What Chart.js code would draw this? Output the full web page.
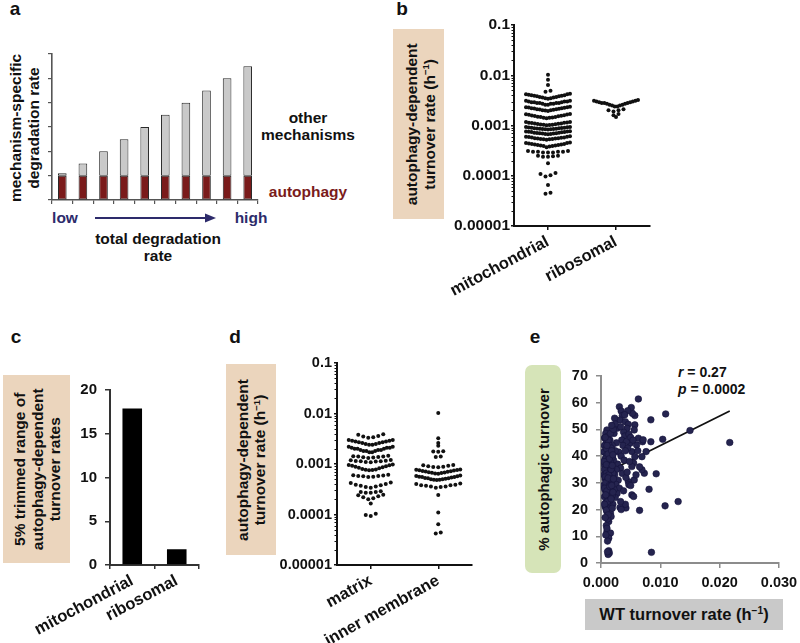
<!DOCTYPE html>
<html><head><meta charset="utf-8">
<script src="https://cdn.jsdelivr.net/npm/chart.js@4.4.1/dist/chart.umd.min.js"></script>
<style>
html,body{margin:0;padding:0;background:#fff;width:800px;height:643px;overflow:hidden;font-family:'Liberation Sans',Arial,sans-serif;}
#fig{position:relative;width:800px;height:643px;}
canvas{position:absolute;}
.t{position:absolute;transform:translate(-50%,-50%);font-weight:bold;font-size:15.5px;white-space:nowrap;color:#111;line-height:1.15;text-align:center;}
.lt{position:absolute;transform:translate(-50%,-50%);font-weight:bold;font-size:19px;color:#111;line-height:1;}
.box{position:absolute;display:flex;align-items:center;justify-content:center;}
.rot{transform:rotate(-90deg);white-space:nowrap;text-align:center;font-weight:bold;font-size:15.5px;color:#111;flex-shrink:0;}
sup{font-size:0.62em;vertical-align:0.55em;line-height:0;}
</style></head>
<body><div id="fig">
<!-- label boxes -->
<div class="box" style="left:0;top:50px;width:50px;height:156px;"><div class="rot" style="line-height:18px;font-size:15.5px">mechanism-specific<br>degradation rate</div></div>
<div class="box" style="left:393px;top:29px;width:51px;height:190px;background:#ebd5bd;"><div class="rot" style="line-height:18.3px;margin-left:4px">autophagy-dependent<br>turnover rate (h<sup>−1</sup>)</div></div>
<div class="box" style="left:3px;top:375px;width:67px;height:188px;background:#ebd5bd;"><div class="rot" style="line-height:17.5px;">5% trimmed range of<br>autophagy-dependent<br>turnover rates</div></div>
<div class="box" style="left:226px;top:364px;width:50px;height:191px;background:#ebd5bd;"><div class="rot" style="line-height:17px;">autophagy-dependent<br>turnover rate (h<sup>−1</sup>)</div></div>
<div class="box" style="left:525px;top:365px;width:36px;height:208px;background:#d6e4b8;border-radius:7px;"><div class="rot" style="font-size:15px;">% autophagic turnover</div></div>
<div class="box" style="left:585px;top:599px;width:198px;height:31px;background:#c9c9c9;"><div style="font-weight:bold;font-size:16.5px;color:#111;white-space:nowrap;">WT turnover rate (h<sup>−1</sup>)</div></div>

<!-- panel letters -->
<div class="lt" style="left:15px;top:8px;">a</div>
<div class="lt" style="left:402px;top:8px;">b</div>
<div class="lt" style="left:16px;top:336px;">c</div>
<div class="lt" style="left:235px;top:336px;">d</div>
<div class="lt" style="left:535px;top:336px;">e</div>

<!-- panel a annotations -->
<div class="t" style="left:308px;top:118px;">other</div>
<div class="t" style="left:308px;top:135px;">mechanisms</div>
<div class="t" style="left:308px;top:192px;color:#7a1b1b;">autophagy</div>
<div class="t" style="left:65px;top:218px;color:#2d2b6b;">low</div>
<div class="t" style="left:251px;top:218px;color:#2d2b6b;">high</div>
<svg style="position:absolute;left:0;top:0;" width="300" height="240"><line x1="95" y1="218" x2="208" y2="218" stroke="#2d2b6b" stroke-width="2"/><polygon points="205,213.5 216,218 205,222.5" fill="#2d2b6b"/></svg>
<div class="t" style="left:158px;top:239px;">total degradation</div>
<div class="t" style="left:158px;top:256px;">rate</div>

<!-- panel e stats -->
<div style="position:absolute;left:678px;top:364px;font-weight:bold;font-size:14px;color:#111;white-space:nowrap;"><i>r</i> = <span id="rVal"></span></div>
<div style="position:absolute;left:678px;top:381px;font-weight:bold;font-size:14px;color:#111;white-space:nowrap;"><i>p</i> = <span id="pVal"></span></div>

<canvas id="ca" width="272" height="212" style="left:0;top:0;width:272px;height:212px;"></canvas>
<canvas id="cb" width="222" height="292" style="left:450px;top:8px;width:222px;height:292px;"></canvas>
<canvas id="cc" width="196" height="271" style="left:20px;top:372px;width:196px;height:271px;"></canvas>
<canvas id="cd" width="222" height="298" style="left:272px;top:345px;width:222px;height:298px;"></canvas>
<canvas id="ce" width="244" height="238" style="left:556px;top:358px;width:244px;height:238px;"></canvas>
</div>
<script>
// ================= DATA =================
// Panel a (schematic)
const aCategories = ['1','2','3','4','5','6','7','8','9','10'];
const aAutophagy = [1,1,1,1,1,1,1,1,1,1];
const aOther = [0.1,0.5,1.0,1.5,2.0,2.5,3.0,3.5,4.0,4.5];

// Log axis ticks (panels b, d)
const logTickValues = [0.00001,0.0001,0.001,0.01,0.1];
const logTickLabels = ['0.00001','0.0001','0.001','0.01','0.1'];

// Panel b
const bCategories = ['mitochondrial','ribosomal'];
const bMito = [
 0.0102, 0.0081, 0.0064, 0.0049, 0.0047,
 0.0043,0.0042,0.0042,0.0041,0.0040,0.0040,0.0039,0.0039,0.0038,0.0038,0.0037,0.0037,0.0036,0.0036,0.0035,0.0035,0.0034,
 0.0031,0.0031,0.0030,0.0030,0.0030,0.0029,0.0029,0.0029,0.0028,0.0028,0.0028,0.0028,0.0027,0.0027,0.0027,0.0026,0.0026,
 0.00235,0.0023,0.0023,0.00228,0.00225,0.0022,0.0022,0.00218,0.00215,0.0021,0.0021,0.00208,0.00205,0.0020,0.0020,0.00198,0.00195,
 0.0017,0.00168,0.00165,0.00163,0.0016,0.00158,0.00156,0.00155,0.00153,0.0015,0.00148,0.00147,0.00145,0.00143,0.00142,0.0014,
 0.00118,0.00117,0.00115,0.00114,0.00113,0.00112,0.0011,0.00109,0.00108,0.00107,0.00106,0.00105,0.00104,0.00103,0.00102,0.00101,
 0.00093,0.00093,0.00092,0.00091,0.0009,0.0009,0.00089,0.00088,0.00088,0.00087,0.00086,0.00086,0.00085,0.00085,0.00084,0.00084,0.00083,
 0.00077,0.00076,0.00076,0.00075,0.00074,0.00074,0.00073,0.00072,0.00072,0.00071,0.0007,0.0007,0.00069,0.00069,0.00068,0.00068,0.00067,
 0.00061,0.0006,0.0006,0.00059,0.00058,0.00058,0.00057,0.00056,0.00056,0.00055,0.00055,0.00054,0.00054,0.00053,0.00053,0.00052,
 0.00046,0.00045,0.00045,0.00044,0.00043,0.00043,0.00042,0.00042,0.00041,0.00041,0.0004,0.0004,0.00039,0.00039,0.00038,0.00037,
 0.00031,0.00031,0.0003,0.0003,0.0003,0.0003,0.00029,0.00029,0.00029,
 0.00025,0.00025,0.000245,0.00024,0.00024,
 0.000177,
 0.000113,0.000108,0.000102,0.000097,
 0.0000655,
 0.000046,0.000044
];
const bRibo = [
 0.0032,0.0031,0.0031,0.0030,0.0030,0.0029,0.0029,0.0028,0.0028,0.0028,0.0027,0.0027,0.0026,0.0026,0.0025,0.0025,0.0024,0.0024,
 0.0021,0.0020,0.0020,0.0019,
 0.0017,0.0016,
 0.00148
];

// Panel c
const cCategories = ['mitochondrial','ribosomal'];
const cValues = [17.9, 1.8];
const cTicks = [0,5,10,15,20];

// Panel d
const dCategories = ['matrix','inner membrane'];
const dMatrix = [
 0.0039,0.0038,0.0036,0.0035,0.0034,0.0033,
 0.0030,0.0030,0.0029,0.0029,0.0028,0.0028,0.0027,0.0027,0.0026,0.0026,0.0025,0.0025,0.0024,0.0024,
 0.0022,0.0022,0.0021,0.0021,0.0021,0.0020,0.0020,0.0020,0.0019,0.0019,0.0019,0.0018,0.0018,0.0018,0.0017,0.0017,
 0.00145,0.00143,0.0014,0.0014,0.00138,0.00136,0.00134,0.00132,
 0.0012,0.00118,0.00116,0.00115,0.00114,0.00113,0.00112,0.0011,0.00108,
 0.00098,0.00096,0.00094,0.00092,0.0009,0.00088,0.00086,0.00084,0.00082,0.0008,0.00078,0.00077,0.00076,0.00075,
 0.00061,0.0006,0.00059,0.00058,0.00058,0.00057,0.00056,0.00055,
 0.00043,0.00042,0.0004,0.00039,0.00038,0.00037,0.00036,0.00035,0.00034,
 0.00029,0.00028,0.00028,0.00027,0.00027,
 0.000245,0.00024,0.00023,0.00022,0.00021,0.0002,
 0.000165,
 0.000104,0.000098,0.000093
];
const dInner = [
 0.0102,
 0.00325,
 0.0026,
 0.0023,
 0.00178,0.00176,0.00174,
 0.0014,0.00138,
 0.00096,0.00094,0.00092,0.0009,0.00088,0.00087,0.00086,
 0.00078,0.00077,0.00076,0.00075,0.00074,0.00073,0.00072,0.00071,0.0007,0.00069,0.00068,0.00067,0.00066,0.00065,0.00064,
 0.00059,0.00058,0.00057,0.00056,0.00055,0.00055,0.00054,0.00053,0.00052,0.00052,0.00051,0.0005,0.0005,0.00049,0.00049,0.00048,
 0.00041,0.0004,0.00039,0.00038,0.00038,0.00037,0.00036,0.00036,0.00035,0.00034,
 0.000244,
 0.00011,
 0.000064,
 0.000044,0.000042
];

// Panel e
const eX = [
 0.0217,0.0150,0.0109,0.0104,0.0108,0.0130,0.0085,0.0084,0.0084,0.0093,0.0081,0.0065,0.0070,0.0076,0.0063,0.0069,0.0073,0.0069,0.0060,0.0063,
 0.0071,0.0057,0.0053,0.0051,0.0057,0.0056,0.0052,0.0057,0.0055,0.0052,0.0056,0.0046,0.0047,0.0052,0.0055,0.0042,0.0041,0.0032,0.0034,
 0.0031,0.0034,0.0036,0.0032,0.0023,0.0041,0.0046,0.0044,0.0049,0.0038,0.0040,0.0035,0.0043,0.0037,0.0045,0.0041,0.0030,0.0034,0.0039,0.0028,
 0.0033,0.0036,0.0042,0.0029,0.0025,0.0031,0.0038,0.0027,0.0024,0.0033,0.0047,0.0050,0.0026,0.0022,0.0028,0.0045,0.0040,0.0033,0.0054,0.0062,
 0.0065,0.0059,0.0050,0.0044,0.0048,0.0026,0.0023,0.0021,0.0024,0.0022,0.0020,0.0019,
 0.0010,0.0008,0.0012,0.0006,0.0015,0.0009,0.0013,0.0007,0.0017,0.0011,0.0005,0.0014,0.0009,0.0019,0.0007,0.0012,0.0016,0.0010,0.0006,0.0014,
 0.0018,0.0008,0.0012,0.0020,0.0005,0.0010,0.0015,0.0007,0.0013,0.0017,0.0009,0.0004,0.0011,0.0016,0.0007,0.0013,0.0009,0.0019,0.0006,0.0012,
 0.0015,0.0008,0.0011,0.0007,0.0014,0.0010,0.0016,0.0017,0.0013,0.0011,0.0009,0.0010,0.0013,0.0016,0.0013,0.0011,0.0013,0.0014,0.0012,
 0.0006,0.0009,0.0012,0.0008,0.0011,0.0006,0.0009,0.0013,0.0007,0.0011,0.0008,0.0014,0.0006,0.0010,0.0012,0.0007,0.0016,0.0010,0.0014,0.0005,
 0.0017,0.0009,0.0012,0.0015,0.0008,0.0011,0.0006,0.0009,0.0012,0.0007,0.0010,0.0008,0.0011,0.0018,0.0020,0.0019,0.0021,0.0018,0.0020,0.0017,
 0.0019,0.0024,0.0021,0.0018
];
const eY = [
 45.1,49.6,55.8,46.3,21.4,23.0,4.0,53.6,45.4,33.4,27.6,19.7,45.4,41.7,61.4,39.8,33.6,34.9,44.2,46.7,
 46.1,55.2,56.0,58.2,51.7,49.8,41.7,39.8,37.4,36.1,31.1,30.5,29.3,25.5,24.9,20.6,22.0,20.8,20.0,
 58.5,56.9,55.2,53.5,54.2,52.9,51.9,50.4,44.8,49.0,47.5,46.0,45.5,44.0,43.0,42.0,41.5,40.0,38.5,37.0,
 35.5,33.5,32.0,31.0,29.5,28.0,27.0,26.0,24.5,23.0,48.2,47.0,45.0,48.5,50.5,57.0,55.5,51.0,46.0,42.0,
 36.0,33.0,29.0,34.0,38.0,35.0,33.0,38.5,42.0,27.5,22.0,44.0,
 49.8,48.5,47.5,46.8,46.0,45.2,44.5,43.8,43.0,42.3,41.6,41.0,40.2,39.6,39.0,38.4,37.8,37.2,36.6,36.0,
 35.4,34.8,34.2,33.6,33.0,32.5,32.0,31.4,30.8,30.2,29.6,29.0,28.4,27.8,27.2,26.6,26.0,25.4,24.8,24.2,
 23.4,22.6,21.8,21.0,20.2,19.2,18.7,17.4,15.5,16.5,14.0,11.8,10.6,11.2,9.3,8.2,4.6,3.7,3.2,
 44.0,42.8,40.8,38.0,36.0,35.0,33.6,33.0,32.2,31.0,30.0,29.0,28.0,27.0,46.0,47.0,48.5,44.0,39.0,38.0,
 35.0,36.8,31.8,28.6,25.5,23.0,22.0,19.8,18.0,17.0,13.0,10.5,4.2,42.0,40.5,36.5,31.5,29.0,26.5,24.0,
 20.5,52.0,50.0,51.5
];
const eFitX = [0.0007, 0.0217];
const eFitY = [33.7, 56.9];
const eXTicks = [0, 0.010, 0.020, 0.030];
const eXTickLabels = ['0.000','0.010','0.020','0.030'];
const eYTicks = [0,10,20,30,40,50,60,70];
const eStats = {r:'0.27', p:'0.0002'};

// ================= RENDER =================
Chart.defaults.font.family = "'Liberation Sans', Arial, sans-serif";
Chart.defaults.font.weight = 'bold';
Chart.defaults.color = '#111';

document.getElementById('rVal').textContent = eStats.r;
document.getElementById('pVal').textContent = eStats.p;

function fixBox(size, key){
  return s => { s[key] = size; s.paddingLeft = 0; s.paddingRight = 0; s.paddingTop = 0; s.paddingBottom = 0; };
}
const noPlug = {legend:{display:false}, tooltip:{enabled:false}};

// minor ticks for log axes
const minorTicks = {
  id:'minorTicks',
  afterDraw(chart){
    const y = chart.scales.y;
    if (!y || y.type !== 'logarithmic') return;
    const ctx = chart.ctx; ctx.save(); ctx.strokeStyle = '#111'; ctx.lineWidth = 1;
    const e0 = Math.round(Math.log10(logTickValues[0])), e1 = Math.round(Math.log10(logTickValues[logTickValues.length-1]));
    for (let e = e0; e < e1; e++) for (let m = 2; m <= 9; m++) {
      const py = Math.round(y.getPixelForValue(m * Math.pow(10, e))) + 0.5;
      ctx.beginPath(); ctx.moveTo(y.right - 2.5, py); ctx.lineTo(y.right, py); ctx.stroke();
    }
    ctx.restore();
  }
};

// beeswarm layout: rows of near-equal values spread horizontally, lowest values in the middle
function swarm(values, center, pxPerUnit, spacingPx, maxWidthPx, gapDec){
  const sorted = values.slice().sort((a,b)=>b-a);
  const rows = []; let cur = [];
  sorted.forEach((v,i)=>{
    if (i > 0 && Math.log10(sorted[i-1]) - Math.log10(v) > gapDec) { rows.push(cur); cur = []; }
    cur.push(v);
  });
  if (cur.length) rows.push(cur);
  const pts = [];
  rows.forEach(row=>{
    const n = row.length;
    const sp = n > 1 ? Math.min(spacingPx, maxWidthPx/(n-1)) : 0;
    const slots = []; for (let k=0;k<n;k++) slots.push(k-(n-1)/2);
    slots.sort((p,q)=>Math.abs(p)-Math.abs(q) || p-q);
    const asc = row.slice().sort((a,b)=>a-b);
    asc.forEach((v,i)=>pts.push({x: center + slots[i]*sp/pxPerUnit, y: v}));
  });
  return pts;
}

// ---- Panel a ----
new Chart(document.getElementById('ca'), {
  type:'bar',
  data:{labels:aCategories, datasets:[
    {label:'autophagy', data:aAutophagy, backgroundColor:'#7a1b1b', borderColor:'#2a2a2a', borderWidth:1, borderSkipped:false, barPercentage:0.42, categoryPercentage:1},
    {label:'other mechanisms', data:aOther, backgroundColor:'#c9c9c9', borderColor:'#2a2a2a', borderWidth:1, borderSkipped:false, barPercentage:0.42, categoryPercentage:1}
  ]},
  options:{responsive:false, animation:false, devicePixelRatio:1,
    layout:{padding:{top:54,right:14,left:0,bottom:0}},
    plugins:noPlug,
    scales:{
      x:{stacked:true, ticks:{display:false}, grid:{offset:true, drawOnChartArea:false, drawTicks:true, tickLength:4, color:'#555', lineWidth:1.2}, border:{display:true,color:'#555',width:1.6}, afterFit:fixBox(12,'height')},
      y:{stacked:true, min:0, max:6, ticks:{display:false, stepSize:1}, grid:{drawOnChartArea:false, drawTicks:true, tickLength:4, color:'#555', lineWidth:1.2}, border:{display:true,color:'#555',width:1.6}, afterFit:fixBox(52,'width')}
    }
  }
});

// ---- swarm panels (b, d) ----
function swarmChart(id, cats, groups, o){
  const chart = new Chart(document.getElementById(id), {
    type:'scatter',
    data:{datasets: groups.map(()=>({data:[], pointRadius:2.0, pointHoverRadius:2.0, backgroundColor:'#111', borderWidth:0}))},
    options:{responsive:false, animation:false, devicePixelRatio:1,
      layout:{padding:{top:o.padTop, right:o.padRight, left:0, bottom:0}},
      plugins:noPlug,
      scales:{
        x:{type:'linear', min:-0.5, max:1.5,
          afterBuildTicks: s => { s.ticks = cats.map((c,i)=>({value:i})); },
          ticks:{callback: v => cats[Math.round(v)], minRotation:o.rot, maxRotation:o.rot, autoSkip:false, font:{size:16.5, weight:'bold'}, color:'#111', padding:o.xPad},
          grid:{drawOnChartArea:false, drawTicks:true, tickLength:4, color:'#111', lineWidth:1.5},
          border:{display:true, color:'#111', width:2},
          afterFit: fixBox(o.xH,'height')},
        y:{type:'logarithmic', min:logTickValues[0], max:logTickValues[logTickValues.length-1],
          afterBuildTicks: s => { s.ticks = logTickValues.map(v=>({value:v, major:true})); },
          ticks:{autoSkip:false, callback: v => { const i = logTickValues.findIndex(t=>Math.abs(Math.log10(t)-Math.log10(v))<1e-6); return i>=0 ? logTickLabels[i] : ''; }, font:{size:o.yFont, weight:'bold'}, color:'#111', padding:o.yPad},
          grid:{drawOnChartArea:false, drawTicks:true, tickLength:3, color:'#111', lineWidth:1.5},
          border:{display:true, color:'#111', width:2},
          afterFit: fixBox(o.yW,'width')}
      }
    },
    plugins:[minorTicks]
  });
  const xs = chart.scales.x;
  const ppu = xs.getPixelForValue(1) - xs.getPixelForValue(0);
  groups.forEach((g,i)=>{ chart.data.datasets[i].data = swarm(g, i, ppu, 5, 44, 0.03); });
  chart.update('none');
}
swarmChart('cb', bCategories, [bMito, bRibo], {padTop:17, padRight:22, xH:74, yW:64, rot:28, xPad:2, yFont:15.5, yPad:1});
swarmChart('cd', dCategories, [dMatrix, dInner], {padTop:18, padRight:22, xH:78, yW:65, rot:29, xPad:2, yFont:14.5, yPad:2});

// ---- Panel c ----
new Chart(document.getElementById('cc'), {
  type:'bar',
  data:{labels:cCategories, datasets:[{data:cValues, backgroundColor:'#000', borderWidth:0, barPercentage:0.44, categoryPercentage:1}]},
  options:{responsive:false, animation:false, devicePixelRatio:1,
    layout:{padding:{top:18,right:17,left:0,bottom:0}},
    plugins:noPlug,
    scales:{
      x:{ticks:{minRotation:28, maxRotation:28, autoSkip:false, font:{size:16.5,weight:'bold'}, color:'#111', padding:2},
         grid:{offset:true, drawOnChartArea:false, drawTicks:true, tickLength:4, color:'#333', lineWidth:1.5},
         border:{display:true,color:'#333',width:2}, afterFit:fixBox(78,'height')},
      y:{min:cTicks[0], max:cTicks[cTicks.length-1],
         afterBuildTicks: s => { s.ticks = cTicks.map(v=>({value:v})); },
         ticks:{font:{size:15,weight:'bold'}, color:'#111', padding:8},
         grid:{drawOnChartArea:false, drawTicks:true, tickLength:5, color:'#333', lineWidth:1.5},
         border:{display:true,color:'#333',width:2}, afterFit:fixBox(90,'width')}
    }
  }
});

// ---- Panel e ----
new Chart(document.getElementById('ce'), {
  data:{datasets:[
    {type:'scatter', data:eX.map((x,i)=>({x:x, y:eY[i]})), pointRadius:3.3, pointHoverRadius:3.3, backgroundColor:'#25244f', borderColor:'#14133a', borderWidth:0.6, order:0},
    {type:'line', data:eFitX.map((x,i)=>({x:x, y:eFitY[i]})), borderColor:'#111', borderWidth:1.8, pointRadius:0, fill:false, order:1}
  ]},
  options:{responsive:false, animation:false, devicePixelRatio:1,
    layout:{padding:{top:18,right:21,left:0,bottom:0}},
    plugins:noPlug,
    scales:{
      x:{type:'linear', min:eXTicks[0], max:eXTicks[eXTicks.length-1],
         afterBuildTicks: s => { s.ticks = eXTicks.map(v=>({value:v})); },
         ticks:{callback:(v)=>eXTickLabels[eXTicks.findIndex(t=>Math.abs(t-v)<1e-9)], font:{size:14.5,weight:'bold'}, color:'#111', padding:6, maxRotation:0},
         grid:{drawOnChartArea:false, drawTicks:true, tickLength:5, color:'#8c8c8c', lineWidth:1.5},
         border:{display:true,color:'#8c8c8c',width:2}, afterFit:fixBox(33,'height')},
      y:{type:'linear', min:eYTicks[0], max:eYTicks[eYTicks.length-1],
         afterBuildTicks: s => { s.ticks = eYTicks.map(v=>({value:v})); },
         ticks:{font:{size:14.5,weight:'bold'}, color:'#111', padding:8},
         grid:{drawOnChartArea:false, drawTicks:true, tickLength:5, color:'#8c8c8c', lineWidth:1.5},
         border:{display:true,color:'#8c8c8c',width:2}, afterFit:fixBox(45,'width')}
    }
  }
});
</script>
</body></html>
